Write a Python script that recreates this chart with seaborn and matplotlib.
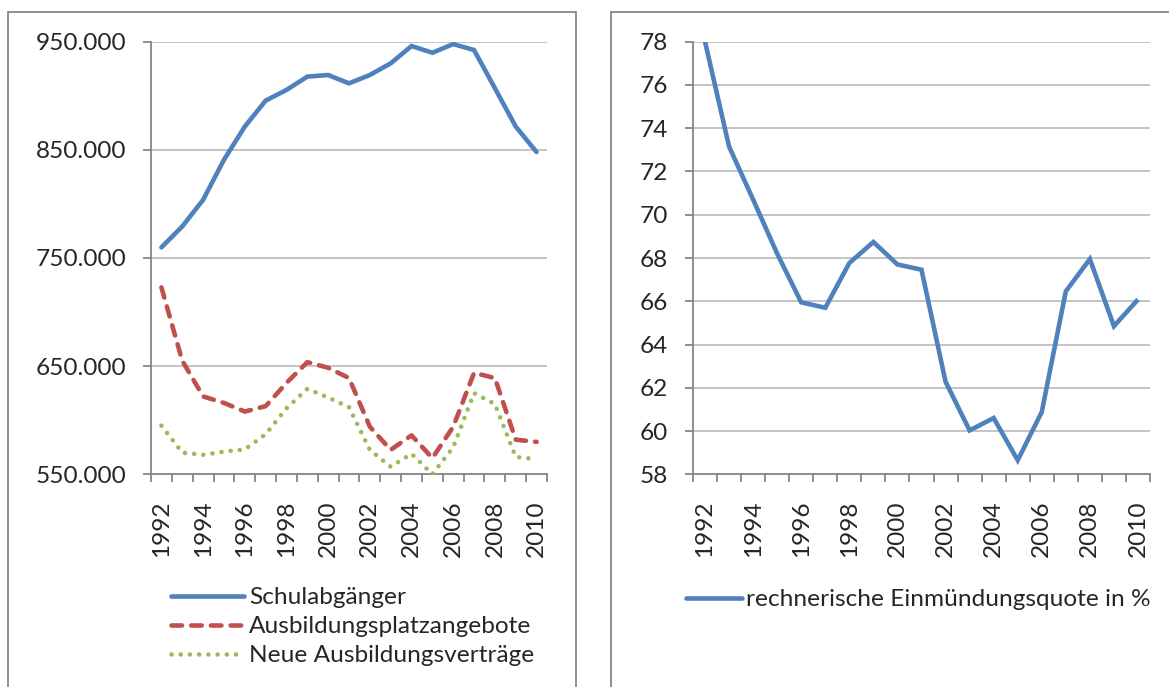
import matplotlib
matplotlib.use("Agg")
import matplotlib.pyplot as plt
from matplotlib.lines import Line2D
from matplotlib.patches import Rectangle
from matplotlib.ticker import FuncFormatter, FixedLocator
import seaborn as sns
import pandas as pd

# ---- data ----
years = list(range(1992, 2011))
schulabgaenger = [759800, 779200, 803800, 840800, 871500, 895500, 905400, 917700, 919200,
                  911500, 919200, 930000, 946000, 939800, 947800, 942300, 907000, 871500, 848000]
angebote = [722800, 655000, 622000, 616000, 608000, 613000, 634500, 653700, 648500,
            639000, 594000, 572600, 586000, 565000, 594000, 643800, 639000, 582000, 580000]
vertraege = [595000, 570000, 568000, 571000, 573000, 587000, 611000, 629000, 621000,
             612000, 572600, 557000, 569000, 550000, 575000, 625000, 615000, 566000, 564000]
quote = [78.0, 73.15, 70.7, 68.2, 65.95, 65.7, 67.77, 68.74, 67.7, 67.46,
         62.28, 60.03, 60.6, 58.65, 60.88, 66.46, 67.95, 64.85, 66.08]

labels_left = ["Schulabgänger", "Ausbildungsplatzangebote", "Neue Ausbildungsverträge"]
label_right = "rechnerische Einmündungsquote in %"
left_yticks = [550000, 650000, 750000, 850000, 950000]
right_yticks = list(range(58, 79, 2))
xtick_years = list(range(1992, 2011, 2))

BLUE, RED, GREEN = "#4F81BD", "#C0504D", "#9BBB59"
AXIS_C, GRID_C, TEXT_C = "#868686", "#BFBFBF", "#262626"

sns.set_theme(style="white")
plt.rcParams["font.family"] = ["Lato", "DejaVu Sans"]
plt.rcParams["text.color"] = TEXT_C

W, H = 1169, 687
fig = plt.figure(figsize=(W / 100, H / 100), dpi=100)
fig.patch.set_facecolor("white")

def fx(px):
    return px / W

def fy(py):
    return 1 - py / H

top, bottom = 41.7, 474.3
axL = fig.add_axes([fx(151), fy(bottom), fx(547 - 151), (bottom - top) / H])
axR = fig.add_axes([fx(693), fy(bottom), fx(1150 - 693), (bottom - top) / H])

df = pd.DataFrame({"Jahr": years, "S": schulabgaenger, "A": angebote, "V": vertraege, "Q": quote})

LW = 3.3
DASH = (0, (2.3, 2.0))
DOT = (0, (0.01, 2.0))
sns.lineplot(data=df, x="Jahr", y="S", ax=axL, color=BLUE, lw=LW,
             solid_capstyle="round", solid_joinstyle="miter", zorder=5)
sns.lineplot(data=df, x="Jahr", y="A", ax=axL, color=RED, lw=LW,
             linestyle=DASH, dash_capstyle="round", zorder=4)
sns.lineplot(data=df, x="Jahr", y="V", ax=axL, color=GREEN, lw=3.3,
             linestyle=DOT, dash_capstyle="round", zorder=3)
sns.lineplot(data=df, x="Jahr", y="Q", ax=axR, color=BLUE, lw=LW,
             solid_capstyle="butt", solid_joinstyle="miter", zorder=5)

FS = 17.6

def style_axis(ax, ylim, yticks, fmt):
    ax.set_xlim(1991.5, 2010.5)
    ax.set_ylim(*ylim)
    ax.set_xlabel("")
    ax.set_ylabel("")
    for s in ["top", "right"]:
        ax.spines[s].set_visible(False)
    for s in ["left", "bottom"]:
        ax.spines[s].set_visible(True)
        ax.spines[s].set_color(AXIS_C)
        ax.spines[s].set_linewidth(1.3)
    ax.yaxis.set_major_locator(FixedLocator(yticks))
    ax.yaxis.set_major_formatter(FuncFormatter(fmt))
    ax.grid(axis="y", color=GRID_C, lw=1.3, zorder=0)
    ax.grid(axis="x", visible=False)
    ax.set_axisbelow(True)
    ax.tick_params(axis="y", which="major", direction="out", length=6, width=1.3,
                   color=AXIS_C, pad=12, labelsize=FS, labelcolor=TEXT_C, left=True)
    ax.xaxis.set_major_locator(FixedLocator(xtick_years))
    ax.xaxis.set_minor_locator(FixedLocator([y - 0.5 for y in years] + [years[-1] + 0.5]))
    ax.tick_params(axis="x", which="major", length=0, pad=19, labelsize=FS,
                   labelcolor=TEXT_C, labelrotation=90, bottom=True)
    ax.tick_params(axis="x", which="minor", direction="out", length=6, width=1.3,
                   color=AXIS_C, bottom=True)
    for lab in ax.get_xticklabels():
        lab.set_va("top")
        lab.set_ha("center")
    if ax.get_legend():
        ax.get_legend().remove()

style_axis(axL, (550000, 950000), left_yticks,
           lambda v, p: f"{int(round(v)):,}".replace(",", "."))
style_axis(axR, (58, 78), right_yticks, lambda v, p: f"{int(round(v))}")

# legends
hL = [Line2D([], [], color=BLUE, lw=LW, solid_capstyle="round"),
      Line2D([], [], color=RED, lw=LW, linestyle=DASH, dash_capstyle="round"),
      Line2D([], [], color=GREEN, lw=3.3, linestyle=DOT, dash_capstyle="round")]
fig.legend(hL, labels_left, loc="upper left", bbox_to_anchor=(fx(171), fy(587)),
           frameon=False, fontsize=FS, handlelength=3.0, handletextpad=0.2,
           labelspacing=0.33, borderpad=0, borderaxespad=0)
hR = [Line2D([], [], color=BLUE, lw=LW, solid_capstyle="round")]
fig.legend(hR, [label_right], loc="upper left", bbox_to_anchor=(fx(686), fy(589)),
           frameon=False, fontsize=FS, handlelength=2.3, handletextpad=0.15,
           borderpad=0, borderaxespad=0)

# panel frames
fig.patches.append(Rectangle((fx(8), -0.05), fx(576 - 8), fy(12) + 0.05,
                             transform=fig.transFigure, fill=False, ec=AXIS_C, lw=1.3))
fig.patches.append(Rectangle((fx(611), -0.05), fx(1185 - 611), fy(12) + 0.05,
                             transform=fig.transFigure, fill=False, ec=AXIS_C, lw=1.3))

fig.savefig("out.png", dpi=100, facecolor="white")
